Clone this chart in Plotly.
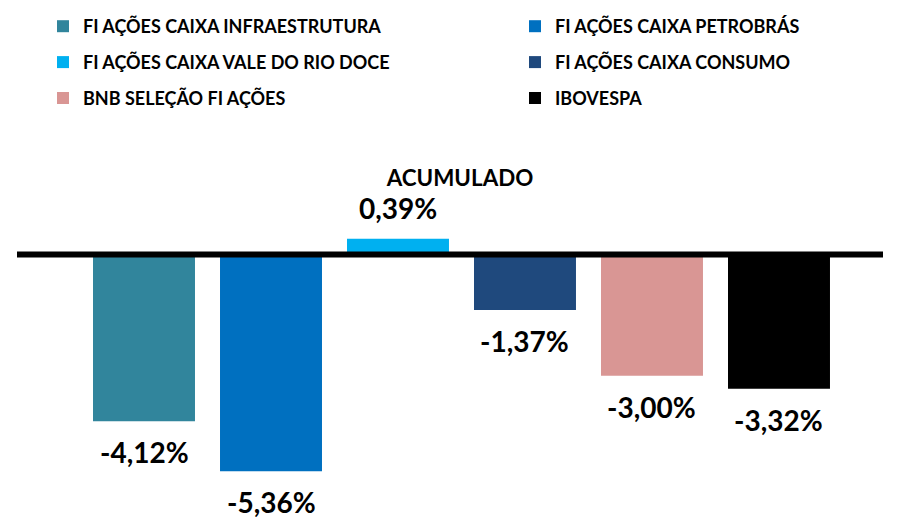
import plotly.graph_objects as go

series_names = [
    "FI AÇÕES CAIXA INFRAESTRUTURA",
    "FI AÇÕES CAIXA PETROBRÁS",
    "FI AÇÕES CAIXA VALE DO RIO DOCE",
    "FI AÇÕES CAIXA CONSUMO",
    "BNB SELEÇÃO FI AÇÕES",
    "IBOVESPA",
]
values = [-4.12, -5.36, 0.39, -1.37, -3.00, -3.32]
value_labels = ["-4,12%", "-5,36%", "0,39%", "-1,37%", "-3,00%", "-3,32%"]
colors = ["#31859C", "#0070C0", "#00B0F0", "#1F497D", "#D99694", "#000000"]
title_text = "ACUMULADO"

FONT = "Lato, Carlito, 'DejaVu Sans', sans-serif"

fig = go.Figure()
for i, (name, v, c) in enumerate(zip(series_names, values, colors)):
    fig.add_trace(go.Bar(
        x=[i], y=[v], name="<b>%s</b>" % name,
        marker=dict(color=c, line=dict(width=0)),
        width=0.803, legendgroup=name,
        legend="legend" if i % 2 == 0 else "legend2",
        hoverinfo="skip",
    ))
    fig.add_annotation(
        x=i, y=v, text="<b>%s</b>" % value_labels[i], showarrow=False,
        yshift=(-31 if v < 0 else 31), yanchor="middle", xanchor="center",
        font=dict(family=FONT, size=28, color="#000000"),
    )

fig.add_shape(type="line", xref="paper", x0=0, x1=1, yref="y", y0=0, y1=0,
              line=dict(color="#000000", width=6), layer="above")

legend_common = dict(
    orientation="v", xref="container", yref="container", yanchor="top",
    xanchor="left", font=dict(family=FONT, size=18, color="#000000"),
    tracegroupgap=9.5, bgcolor="rgba(0,0,0,0)", itemclick=False,
)
fig.update_layout(
    width=898, height=517,
    margin=dict(l=9, r=23, t=142, b=15, autoexpand=False),
    plot_bgcolor="white", paper_bgcolor="white",
    barmode="overlay",
    showlegend=True,
    title=dict(text="<b>%s</b>" % title_text, x=452 / 898, xanchor="center",
               y=1 - 170 / 517, yanchor="middle", yref="container",
               font=dict(family=FONT, size=22.4, color="#000000")),
    legend=dict(x=35 / 898, y=1 + 9 / 517, **legend_common),
    legend2=dict(x=507 / 898, y=1 + 9 / 517, **legend_common),
    xaxis=dict(range=[-1.0, 5.819], visible=False, fixedrange=True),
    yaxis=dict(range=[-6.316, 2.583], visible=False, fixedrange=True),
)

fig.write_html("out.html")
